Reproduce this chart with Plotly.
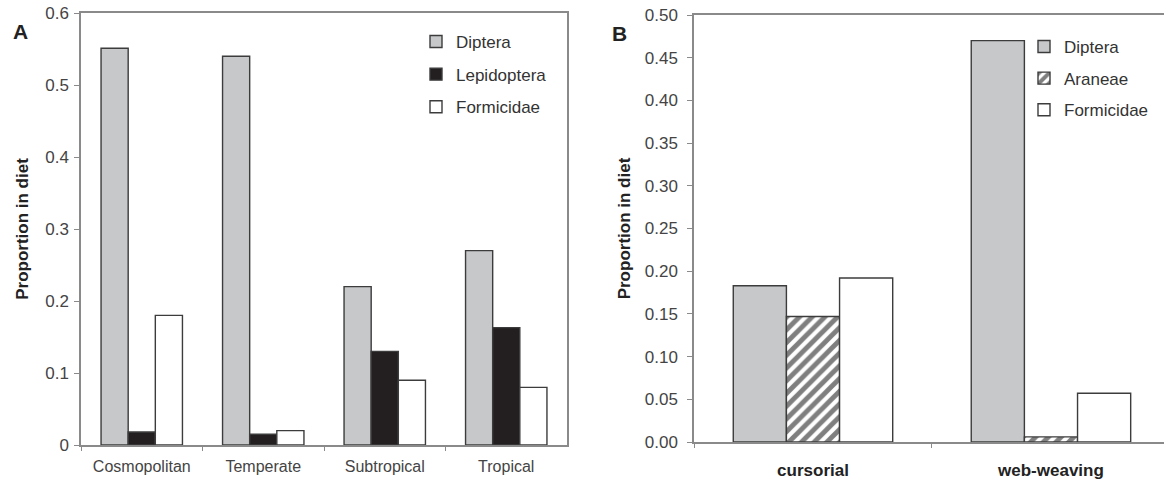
import plotly.graph_objects as go

# ---- Panel A data ----
regions = ["Cosmopolitan", "Temperate", "Subtropical", "Tropical"]
a_diptera = [0.551, 0.540, 0.220, 0.270]
a_lepidoptera = [0.018, 0.015, 0.130, 0.163]
a_formicidae = [0.180, 0.020, 0.090, 0.080]
a_tickvals = [0, 0.1, 0.2, 0.3, 0.4, 0.5, 0.6]
a_ticktext = ["0", "0.1", "0.2", "0.3", "0.4", "0.5", "0.6"]

# ---- Panel B data ----
strategies = ["cursorial", "web-weaving"]
b_diptera = [0.183, 0.470]
b_araneae = [0.147, 0.006]
b_formicidae = [0.192, 0.057]
b_tickvals = [0, 0.05, 0.10, 0.15, 0.20, 0.25, 0.30, 0.35, 0.40, 0.45, 0.50]
b_ticktext = ["0.00", "0.05", "0.10", "0.15", "0.20", "0.25", "0.30",
              "0.35", "0.40", "0.45", "0.50"]

FONT = "Liberation Sans, Arial, Helvetica, sans-serif"
GREY = "#c7c8ca"
BLACK = "#231f20"
EDGE = "#3c3c3c"
AXIS = "#8a8a8a"

W, H = 1164, 482


def px_x(v):
    return v / W


def px_y(v):
    return 1 - v / H


fig = go.Figure()

outline = dict(color=EDGE, width=1.4)

# Panel A
fig.add_trace(go.Bar(x=regions, y=a_diptera, name="Diptera", legendgroup="a1",
                     marker=dict(color=GREY, line=outline),
                     xaxis="x", yaxis="y", legend="legend"))
fig.add_trace(go.Bar(x=regions, y=a_lepidoptera, name="Lepidoptera", legendgroup="a2",
                     marker=dict(color=BLACK, line=outline),
                     xaxis="x", yaxis="y", legend="legend"))
fig.add_trace(go.Bar(x=regions, y=a_formicidae, name="Formicidae", legendgroup="a3",
                     marker=dict(color="white", line=outline),
                     xaxis="x", yaxis="y", legend="legend"))

# Panel B
fig.add_trace(go.Bar(x=strategies, y=b_diptera, name="Diptera", legendgroup="b1",
                     marker=dict(color=GREY, line=outline),
                     xaxis="x2", yaxis="y2", legend="legend2"))
fig.add_trace(go.Bar(x=strategies, y=b_araneae, name="Araneae", legendgroup="b2",
                     marker=dict(color="white", line=outline,
                                 pattern=dict(shape="/", fgcolor="#000000", bgcolor="white",
                                              size=9, solidity=0.55)),
                     xaxis="x2", yaxis="y2", legend="legend2"))
fig.add_trace(go.Bar(x=strategies, y=b_formicidae, name="Formicidae", legendgroup="b3",
                     marker=dict(color="white", line=outline),
                     xaxis="x2", yaxis="y2", legend="legend2"))

tickfont = dict(family=FONT, size=17, color="#444444")
titlefont = dict(family=FONT, size=17, color="#222222", weight="bold")

fig.update_layout(
    width=W, height=H,
    margin=dict(l=0, r=0, t=0, b=0, autoexpand=False),
    paper_bgcolor="white", plot_bgcolor="white",
    barmode="group", bargap=0.33, bargroupgap=0,
    font=dict(family=FONT, color="#333333"),
    xaxis=dict(domain=[px_x(81), px_x(567)], anchor="y",
               range=[-0.5, 3.5], showline=True, linecolor=AXIS, linewidth=1.5,
               mirror=True, ticks="outside", tickson="boundaries", ticklen=4,
               tickcolor=AXIS, tickfont=dict(family=FONT, size=16, color="#444444"),
               ticklabelstandoff=6, showgrid=False, zeroline=False, automargin=False),
    yaxis=dict(domain=[px_y(445), px_y(13)], anchor="x",
               range=[0, 0.6], tickvals=a_tickvals, ticktext=a_ticktext,
               showline=True, linecolor=AXIS, linewidth=1.5, mirror=True,
               ticks="outside", ticklen=5, tickcolor=AXIS, tickfont=tickfont,
               ticklabelstandoff=2, showgrid=False, zeroline=False, automargin=False,
               title=dict(text="Proportion in diet", font=titlefont, standoff=12)),
    xaxis2=dict(domain=[px_x(694), 1.0], anchor="y2",
                range=[-0.5, 1.475], showline=True, linecolor=AXIS, linewidth=1.5,
                mirror=True, ticks="outside", tickson="boundaries", ticklen=4,
                tickcolor=AXIS,
                tickfont=dict(family=FONT, size=17, color="#222222", weight="bold"),
                ticklabelstandoff=12, showgrid=False, zeroline=False, automargin=False),
    yaxis2=dict(domain=[px_y(442), px_y(15)], anchor="x2",
                range=[0, 0.5], tickvals=b_tickvals, ticktext=b_ticktext,
                showline=True, linecolor=AXIS, linewidth=1.5, mirror=False,
                ticks="outside", ticklen=5, tickcolor=AXIS, tickfont=tickfont,
                ticklabelstandoff=6, showgrid=False, zeroline=False, automargin=False,
                title=dict(text="Proportion in diet", font=titlefont, standoff=10)),
    legend=dict(x=px_x(416), y=px_y(24), xanchor="left", yanchor="top",
                bgcolor="rgba(0,0,0,0)", tracegroupgap=7.5, itemclick=False,
                font=dict(family=FONT, size=17, color="#333333")),
    legend2=dict(x=px_x(1024), y=px_y(29), xanchor="left", yanchor="top",
                 bgcolor="rgba(0,0,0,0)", tracegroupgap=6.5, itemclick=False,
                 font=dict(family=FONT, size=17, color="#333333")),
    showlegend=True,
    annotations=[
        dict(text="A", x=px_x(11), y=px_y(32), xref="paper", yref="paper",
             xanchor="left", yanchor="middle", showarrow=False,
             font=dict(family=FONT, size=21, color="#222222", weight="bold")),
        dict(text="B", x=px_x(610), y=px_y(34), xref="paper", yref="paper",
             xanchor="left", yanchor="middle", showarrow=False,
             font=dict(family=FONT, size=21, color="#222222", weight="bold")),
    ],
)

fig.write_html("out.html")
